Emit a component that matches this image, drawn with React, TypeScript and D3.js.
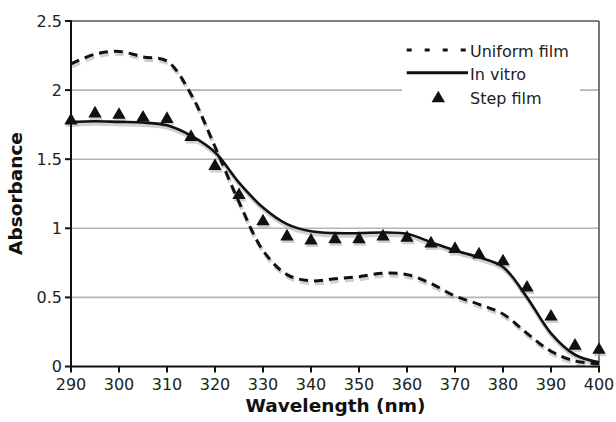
import React from "react";
import * as d3 from "d3";

const wavelengths = [290, 295, 300, 305, 310, 315, 320, 325, 330, 335, 340, 345, 350, 355, 360, 365, 370, 375, 380, 385, 390, 395, 400];
const uniformFilm = [2.19, 2.26, 2.28, 2.24, 2.21, 1.97, 1.59, 1.19, 0.84, 0.665, 0.62, 0.635, 0.65, 0.675, 0.665, 0.6, 0.51, 0.45, 0.38, 0.24, 0.11, 0.04, 0.02];
const inVitro = [1.77, 1.775, 1.77, 1.765, 1.745, 1.67, 1.55, 1.33, 1.15, 1.03, 0.978, 0.965, 0.965, 0.97, 0.96, 0.9, 0.84, 0.79, 0.72, 0.5, 0.24, 0.085, 0.03];
const stepFilm = [1.78, 1.83, 1.82, 1.8, 1.79, 1.66, 1.45, 1.24, 1.05, 0.94, 0.91, 0.92, 0.92, 0.94, 0.93, 0.89, 0.85, 0.81, 0.76, 0.57, 0.36, 0.15, 0.12];
const xTicks = [290, 300, 310, 320, 330, 340, 350, 360, 370, 380, 390, 400];
const yTicks = [0, 0.5, 1, 1.5, 2, 2.5];
const yTickLabels = ["0", "0.5", "1", "1.5", "2", "2.5"];
const legendLabels = ["Uniform film", "In vitro", "Step film"];

const W = 616, H = 422;
const L = 71, R = 599, T = 21, B = 366.5;
const FONT = "'DejaVu Sans', Verdana, sans-serif";

export default function App() {
  const x = d3.scaleLinear().domain([290, 400]).range([L, R]);
  const y = d3.scaleLinear().domain([0, 2.5]).range([B, T]);
  const line = d3
    .line<number>()
    .x((_, i) => x(wavelengths[i]))
    .y((d) => y(d))
    .curve(d3.curveCatmullRom.alpha(0.5));
  const tri = d3.symbol().type(d3.symbolTriangle).size(78)() as string;

  const uPath = line(uniformFilm) as string;
  const vPath = line(inVitro) as string;

  return (
    <svg width={W} height={H} style={{ position: "absolute", left: 0, top: 0, background: "#fff" }} fontFamily={FONT}>
      <rect x={0} y={0} width={W} height={H} fill="#fff" />
      {/* gridlines */}
      {yTicks.slice(1, -1).map((t) => (
        <line key={t} x1={L} x2={R} y1={y(t)} y2={y(t)} stroke="#b4b4b4" strokeWidth={1.6} />
      ))}
      {/* top and right border */}
      <line x1={L} x2={R} y1={T} y2={T} stroke="#555" strokeWidth={1.6} />
      <line x1={R} x2={R} y1={T} y2={B} stroke="#555" strokeWidth={1.6} />

      {/* legend */}
      <rect x={402} y={38} width={178} height={72} fill="#fff" />
      <line x1={406.7} x2={468} y1={50} y2={50} stroke="#111" strokeWidth={3} strokeDasharray="5,13" />
      <line x1={406.7} x2={468} y1={72.7} y2={72.7} stroke="#111" strokeWidth={3} />
      <path d={tri} transform="translate(438.3,98.5)" fill="#111" />
      {legendLabels.map((t, i) => (
        <text key={t} x={470} y={[56.5, 79.5, 104][i]} fontSize={16} fill="#222">
          {t}
        </text>
      ))}

      {/* shadows */}
      <g transform="translate(1,2.5)" opacity={0.55}>
        <path d={uPath} fill="none" stroke="#aaa" strokeWidth={4} strokeDasharray="9,6" />
        <path d={vPath} fill="none" stroke="#aaa" strokeWidth={4} />
        {stepFilm.map((v, i) => (
          <path key={i} d={tri} transform={`translate(${x(wavelengths[i])},${y(v)})`} fill="#aaa" />
        ))}
      </g>
      {/* curves */}
      <path d={uPath} fill="none" stroke="#111" strokeWidth={3} strokeDasharray="9,6" />
      <path d={vPath} fill="none" stroke="#111" strokeWidth={2.6} />
      {stepFilm.map((v, i) => (
        <path key={i} d={tri} transform={`translate(${x(wavelengths[i])},${y(v)})`} fill="#111" />
      ))}

      {/* axes */}
      <line x1={L} x2={L} y1={T - 0.8} y2={B + 0.5} stroke="#111" strokeWidth={2} />
      <line x1={L - 0.8} x2={R + 0.8} y1={B} y2={B} stroke="#111" strokeWidth={2} />
      {xTicks.map((t) => (
        <g key={t}>
          <line x1={x(t)} x2={x(t)} y1={B} y2={B + 6} stroke="#111" strokeWidth={2} />
          <text x={x(t)} y={389.5} fontSize={16} textAnchor="middle" fill="#222">
            {t}
          </text>
        </g>
      ))}
      {yTicks.map((t, i) => (
        <g key={t}>
          <line x1={L - 6} x2={L} y1={y(t)} y2={y(t)} stroke="#111" strokeWidth={2} />
          <text x={62} y={y(t) + 5.8} fontSize={16} textAnchor="end" fill="#222">
            {yTickLabels[i]}
          </text>
        </g>
      ))}
      <text x={335.5} y={412} fontSize={18.5} fontWeight="bold" textAnchor="middle" fill="#111">
        Wavelength (nm)
      </text>
      <text
        transform="translate(22,193.5) rotate(-90)"
        fontSize={18.5}
        fontWeight="bold"
        textAnchor="middle"
        fill="#111"
      >
        Absorbance
      </text>
    </svg>
  );
}
